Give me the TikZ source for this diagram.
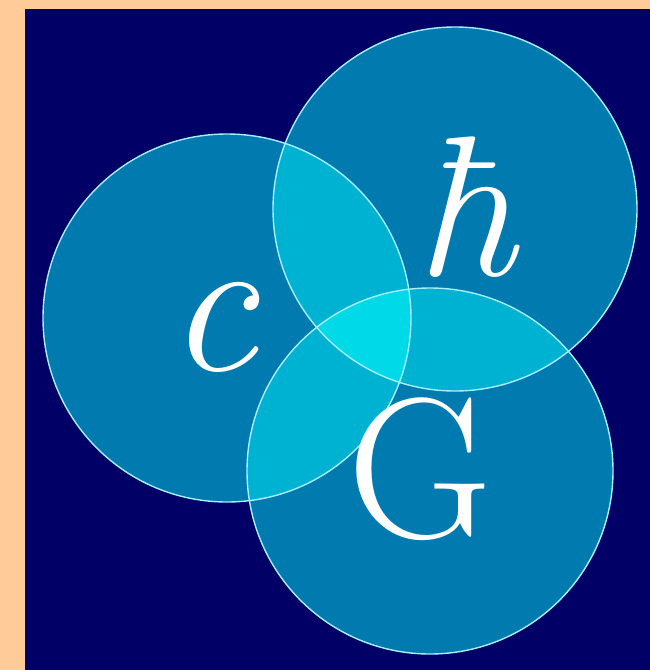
\documentclass[tikz,border=0pt]{standalone}
\usepackage{fontspec}
\definecolor{peach}{RGB}{255,204,153}
\definecolor{navy}{RGB}{0,0,102}
\definecolor{disc}{RGB}{0,122,175}
\definecolor{lens}{RGB}{0,178,210}
\definecolor{core}{RGB}{0,218,232}
\definecolor{rim}{RGB}{165,240,255}
\tikzset{
  rimline/.style={draw=rim, line width=1.4pt},
  letter/.style={text=white, anchor=base, inner sep=0pt, font=\fontsize{200}{200}\selectfont}
}
\begin{document}
\begin{tikzpicture}[x=1pt,y=-1pt]
  \useasboundingbox (0,0) rectangle (650,670);
  \fill[peach] (0,0) rectangle (650,670);
  \fill[navy] (25,9) rectangle (650,670);
  \coordinate (cc) at (227,318);
  \coordinate (hc) at (455,209);
  \coordinate (gc) at (430,471);
  \def\rc{184}\def\rh{182}\def\rg{183}
  % base discs
  \fill[disc] (cc) circle[radius=\rc];
  \fill[disc] (hc) circle[radius=\rh];
  \fill[disc] (gc) circle[radius=\rg];
  % pairwise overlaps
  \begin{scope}\clip (cc) circle[radius=\rc]; \fill[lens] (hc) circle[radius=\rh];\end{scope}
  \begin{scope}\clip (cc) circle[radius=\rc]; \fill[lens] (gc) circle[radius=\rg];\end{scope}
  \begin{scope}\clip (hc) circle[radius=\rh]; \fill[lens] (gc) circle[radius=\rg];\end{scope}
  % triple overlap
  \begin{scope}\clip (cc) circle[radius=\rc]; \clip (hc) circle[radius=\rh]; \fill[core] (gc) circle[radius=\rg];\end{scope}
  % outlines
  \draw[rimline] (cc) circle[radius=\rc];
  \draw[rimline] (hc) circle[radius=\rh];
  \draw[rimline] (gc) circle[radius=\rg];
  % letters
  \node[letter] (c) at (212,370) {\itshape c};
  \node[letter] (hbar) at (465,275) {\itshape ħ};
  \node[letter] (G) at (420,537) {G};
\end{tikzpicture}
\end{document}
